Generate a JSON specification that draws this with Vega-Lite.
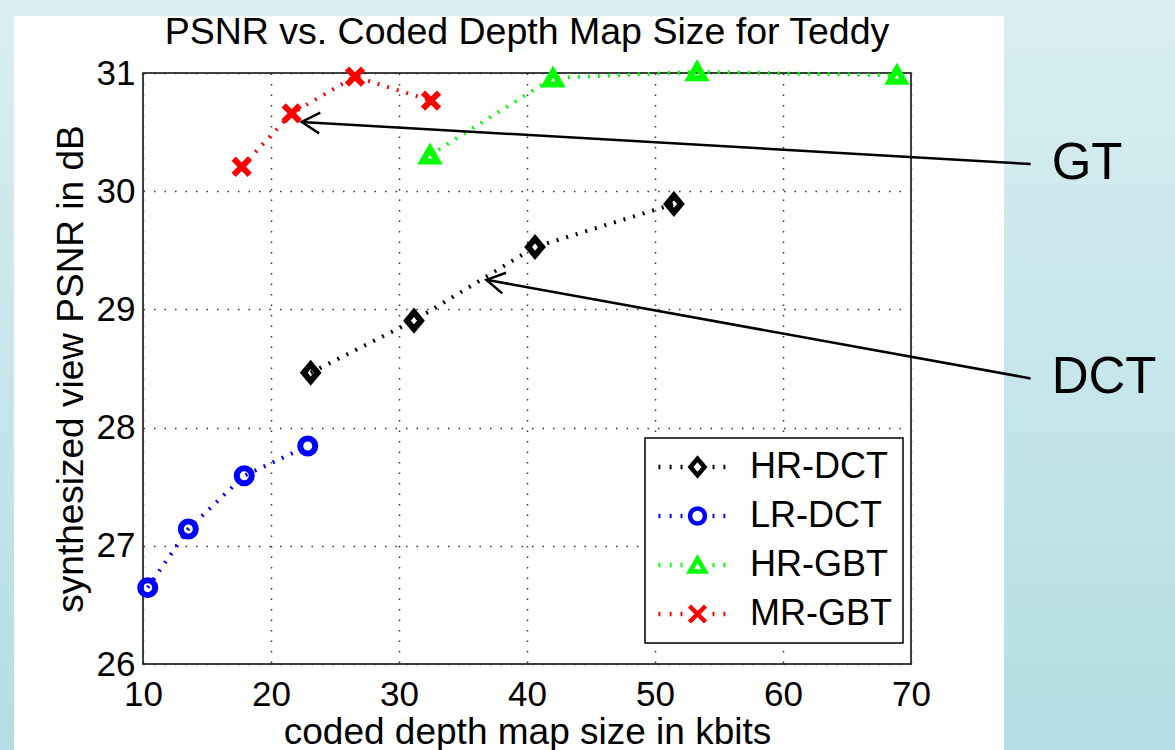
{
  "$schema": "https://vega.github.io/schema/vega-lite/v6.json",
  "width": 768,
  "height": 591,
  "autosize": {"type": "none"},
  "padding": {"left": 143, "top": 73, "right": 264, "bottom": 86},
  "background": "white",
  "title": {
    "text": "PSNR vs. Coded Depth Map Size for Teddy",
    "fontSize": 37.5,
    "font": "Liberation Sans",
    "fontWeight": "normal",
    "color": "black",
    "anchor": "middle",
    "frame": "group",
    "offset": -52
  },
  "datasets": {
    "points": [
      {"series": "HR-DCT", "kb": 23.1, "db": 28.464},
      {"series": "HR-DCT", "kb": 31.17, "db": 28.905},
      {"series": "HR-DCT", "kb": 40.63, "db": 29.528},
      {"series": "HR-DCT", "kb": 51.48, "db": 29.892},
      {"series": "LR-DCT", "kb": 10.37, "db": 26.646},
      {"series": "LR-DCT", "kb": 13.54, "db": 27.142},
      {"series": "LR-DCT", "kb": 17.91, "db": 27.593},
      {"series": "LR-DCT", "kb": 22.87, "db": 27.844},
      {"series": "HR-GBT", "kb": 32.42, "db": 30.306},
      {"series": "HR-GBT", "kb": 42.03, "db": 30.958},
      {"series": "HR-GBT", "kb": 53.28, "db": 31.01},
      {"series": "HR-GBT", "kb": 68.9, "db": 30.98},
      {"series": "MR-GBT", "kb": 17.71, "db": 30.207},
      {"series": "MR-GBT", "kb": 21.62, "db": 30.659},
      {"series": "MR-GBT", "kb": 26.56, "db": 30.969},
      {"series": "MR-GBT", "kb": 32.5, "db": 30.766}
    ],
    "arrows": [
      {"label": "GT", "fromX": 79.35, "fromY": 30.23, "toX": 22.4, "toY": 30.586},
      {"label": "DCT", "fromX": 79.35, "fromY": 28.416, "toX": 36.83, "toY": 29.25}
    ]
  },
  "resolve": {"scale": {"color": "independent", "shape": "independent"}},
  "config": {
    "view": {"stroke": "black", "strokeWidth": 1.5},
    "axis": {
      "grid": true,
      "gridColor": "#333333",
      "gridDash": [1.5, 9],
      "gridWidth": 1.5,
      "ticks": false,
      "domain": false,
      "labelFont": "Liberation Sans",
      "labelFontSize": 35,
      "labelColor": "black",
      "labelOverlap": false,
      "labelFlush": false,
      "titleFont": "Liberation Sans",
      "titleFontSize": 37,
      "titleFontWeight": "normal",
      "titleColor": "black"
    },
    "axisX": {"labelPadding": 13, "titlePadding": 2, "tickCount": 7},
    "axisY": {"labelPadding": 8, "titlePadding": 6, "tickCount": 5},
    "legend": {"strokeWidth": 1.5}
  },
  "layer": [
    {
      "data": {"values": [{}]},
      "mark": {"type": "rect", "clip": false, "fill": {"gradient": "linear", "x1": 0, "y1": 0, "x2": 0, "y2": 1, "stops": [{"offset": 0, "color": "#d9eef2"}, {"offset": 1, "color": "#b3dee3"}]}},
      "encoding": {
        "x": {"datum": 77.27, "type": "quantitative", "scale": {"domain": [10, 70], "nice": false, "zero": false}, "title": "coded depth map size in kbits"},
        "x2": {"datum": 91},
        "y": {"datum": 31.62, "type": "quantitative", "scale": {"domain": [26, 31], "nice": false, "zero": false}, "title": "synthesized view PSNR in dB"},
        "y2": {"datum": 25.27}
      }
    },
    {
      "data": {"values": [{}]},
      "mark": {"type": "rect", "clip": false, "fill": {"gradient": "linear", "x1": 0, "y1": 0, "x2": 0, "y2": 1, "stops": [{"offset": 0, "color": "#d9eef2"}, {"offset": 1, "color": "#b3dee3"}]}},
      "encoding": {
        "x": {"datum": -1.2, "type": "quantitative", "scale": {"domain": [10, 70], "nice": false, "zero": false}, "title": "coded depth map size in kbits"},
        "x2": {"datum": -0.08},
        "y": {"datum": 31.62, "type": "quantitative", "scale": {"domain": [26, 31], "nice": false, "zero": false}, "title": "synthesized view PSNR in dB"},
        "y2": {"datum": 25.27}
      }
    },
    {
      "data": {"values": [{}]},
      "mark": {"type": "rect", "clip": false, "fill": "#d9eef2"},
      "encoding": {
        "x": {"datum": -1.2, "type": "quantitative", "scale": {"domain": [10, 70], "nice": false, "zero": false}, "title": "coded depth map size in kbits"},
        "x2": {"datum": 91},
        "y": {"datum": 31.62, "type": "quantitative", "scale": {"domain": [26, 31], "nice": false, "zero": false}, "title": "synthesized view PSNR in dB"},
        "y2": {"datum": 31.48}
      }
    },
    {
      "data": {"name": "points"},
      "mark": {"type": "line", "strokeDash": [2, 8], "strokeWidth": 4, "strokeCap": "butt"},
      "encoding": {
        "x": {"field": "kb", "type": "quantitative", "scale": {"domain": [10, 70], "nice": false, "zero": false}, "title": "coded depth map size in kbits"},
        "y": {"field": "db", "type": "quantitative", "scale": {"domain": [26, 31], "nice": false, "zero": false}, "title": "synthesized view PSNR in dB"},
        "color": {"field": "series", "type": "nominal", "scale": {"domain": ["HR-DCT", "LR-DCT", "HR-GBT", "MR-GBT"], "range": ["#000000", "#0000ff", "#00ff00", "#ff0000"]}, "legend": null},
        "order": {"field": "kb", "type": "quantitative"}
      }
    },
    {
      "data": {"name": "points"},
      "mark": {"type": "point", "filled": false, "strokeWidth": 6, "opacity": 1, "size": 225},
      "encoding": {
        "x": {"field": "kb", "type": "quantitative", "scale": {"domain": [10, 70], "nice": false, "zero": false}, "title": "coded depth map size in kbits"},
        "y": {"field": "db", "type": "quantitative", "scale": {"domain": [26, 31], "nice": false, "zero": false}, "title": "synthesized view PSNR in dB"},
        "color": {"field": "series", "type": "nominal", "scale": {"domain": ["HR-DCT", "LR-DCT", "HR-GBT", "MR-GBT"], "range": ["#000000", "#0000ff", "#00ff00", "#ff0000"]}, "legend": null},
        "shape": {"field": "series", "type": "nominal", "scale": {"domain": ["HR-DCT", "LR-DCT", "HR-GBT", "MR-GBT"], "range": ["M0,-1.12L0.93,0L0,1.12L-0.93,0Z", "circle", "triangle-up", "M-1.07,-1.07L1.07,1.07M1.07,-1.07L-1.07,1.07"]}, "legend": null}
      }
    },
    {
      "data": {"name": "arrows"},
      "mark": {"type": "rule", "strokeWidth": 2.5, "color": "black", "clip": false},
      "encoding": {
        "x": {"field": "fromX", "type": "quantitative", "scale": {"domain": [10, 70], "nice": false, "zero": false}, "title": "coded depth map size in kbits"},
        "y": {"field": "fromY", "type": "quantitative", "scale": {"domain": [26, 31], "nice": false, "zero": false}, "title": "synthesized view PSNR in dB"},
        "x2": {"field": "toX"},
        "y2": {"field": "toY"}
      }
    },
    {
      "data": {"name": "arrows"},
      "transform": [{"filter": "datum.label === 'GT'"}],
      "mark": {"type": "point", "shape": "M1,-0.58L0,0L1,0.58", "size": 1296, "angle": 3.3, "filled": false, "strokeWidth": 2.5, "color": "black", "opacity": 1},
      "encoding": {
        "x": {"field": "toX", "type": "quantitative", "scale": {"domain": [10, 70], "nice": false, "zero": false}, "title": "coded depth map size in kbits"},
        "y": {"field": "toY", "type": "quantitative", "scale": {"domain": [26, 31], "nice": false, "zero": false}, "title": "synthesized view PSNR in dB"}
      }
    },
    {
      "data": {"name": "arrows"},
      "transform": [{"filter": "datum.label === 'DCT'"}],
      "mark": {"type": "point", "shape": "M1,-0.58L0,0L1,0.58", "size": 1296, "angle": 10.3, "filled": false, "strokeWidth": 2.5, "color": "black", "opacity": 1},
      "encoding": {
        "x": {"field": "toX", "type": "quantitative", "scale": {"domain": [10, 70], "nice": false, "zero": false}, "title": "coded depth map size in kbits"},
        "y": {"field": "toY", "type": "quantitative", "scale": {"domain": [26, 31], "nice": false, "zero": false}, "title": "synthesized view PSNR in dB"}
      }
    },
    {
      "data": {"name": "arrows"},
      "mark": {"type": "text", "align": "left", "baseline": "middle", "dx": 21, "fontSize": 51, "font": "Liberation Sans", "color": "black"},
      "encoding": {
        "x": {"field": "fromX", "type": "quantitative", "scale": {"domain": [10, 70], "nice": false, "zero": false}, "title": "coded depth map size in kbits"},
        "y": {"field": "fromY", "type": "quantitative", "scale": {"domain": [26, 31], "nice": false, "zero": false}, "title": "synthesized view PSNR in dB"},
        "text": {"field": "label"}
      }
    },
    {
      "data": {"name": "points"},
      "transform": [{"filter": "false"}],
      "mark": {"type": "point", "filled": false, "strokeWidth": 4.5, "opacity": 1},
      "encoding": {
        "x": {"field": "kb", "type": "quantitative", "scale": {"domain": [10, 70], "nice": false, "zero": false}, "title": "coded depth map size in kbits"},
        "y": {"field": "db", "type": "quantitative", "scale": {"domain": [26, 31], "nice": false, "zero": false}, "title": "synthesized view PSNR in dB"},
        "color": {
          "field": "series", "type": "nominal",
          "scale": {"domain": ["HR-DCT", "LR-DCT", "HR-GBT", "MR-GBT"], "range": ["#000000", "#0000ff", "#00ff00", "#ff0000"]},
          "legend": {"orient": "none", "legendX": 502, "legendY": 365, "title": null, "fillColor": "white", "strokeColor": "black", "padding": 11, "rowPadding": 13, "clipHeight": 36, "symbolSize": 4096, "symbolStrokeWidth": 4.5, "symbolOffset": 7, "labelOffset": 18, "labelFont": "Liberation Sans", "labelFontSize": 36, "labelColor": "black", "labelLimit": 0}
        },
        "shape": {
          "field": "series", "type": "nominal",
          "scale": {"domain": ["HR-DCT", "LR-DCT", "HR-GBT", "MR-GBT"], "range": [
            "M-1.22,0L-1.16,0M-0.87,0L-0.81,0M-0.53,0L-0.47,0M0.47,0L0.53,0M0.81,0L0.87,0M0,-0.26L0.22,0L0,0.26L-0.22,0Z",
            "M-1.22,0L-1.16,0M-0.87,0L-0.81,0M-0.53,0L-0.47,0M0.47,0L0.53,0M0.81,0L0.87,0M0.234,0A0.234,0.234,0,1,1,-0.234,0A0.234,0.234,0,1,1,0.234,0Z",
            "M-1.22,0L-1.16,0M-0.87,0L-0.81,0M-0.53,0L-0.47,0M0.47,0L0.53,0M0.81,0L0.87,0M0,-0.203L0.234,0.203L-0.234,0.203Z",
            "M-1.22,0L-1.16,0M-0.87,0L-0.81,0M-0.53,0L-0.47,0M0.47,0L0.53,0M0.81,0L0.87,0M-0.25,-0.25L0.25,0.25M0.25,-0.25L-0.25,0.25"
          ]},
          "legend": {"orient": "none", "legendX": 502, "legendY": 365, "title": null, "fillColor": "white", "strokeColor": "black", "padding": 11, "rowPadding": 13, "clipHeight": 36, "symbolSize": 4096, "symbolStrokeWidth": 4.5, "symbolOffset": 7, "labelOffset": 18, "labelFont": "Liberation Sans", "labelFontSize": 36, "labelColor": "black", "labelLimit": 0}
        }
      }
    }
  ]
}
